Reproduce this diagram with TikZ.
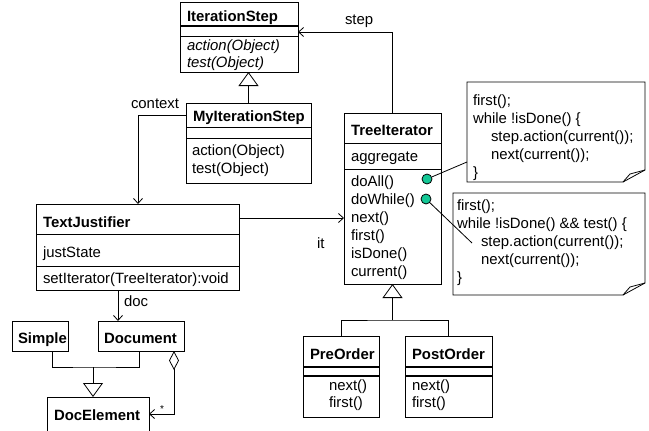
\documentclass[tikz,border=0pt]{standalone}
\usepackage{fontspec}
\setmainfont{Liberation Sans}
\usetikzlibrary{arrows.meta,calc}
\definecolor{pingreen}{RGB}{20,200,150}
\newcommand\fs{\fontsize{14.9}{18}\selectfont}
\tikzset{
  cls/.style={draw, line width=0.8pt, inner sep=0pt, outer sep=0pt, anchor=north west},
  lbl/.style={anchor=base west, inner sep=0pt, outer sep=0pt, font=\fs},
  ttl/.style={lbl, font=\fs\bfseries},
  abst/.style={lbl, font=\fs\itshape},
  conn/.style={line width=0.8pt},
  sepline/.style={line width=0.8pt},
  sepbold/.style={line width=1.5pt},
  nav/.style={conn, -{Straight Barb[length=5pt,width=9pt]}},
  gen/.style={conn, -{Triangle[open,length=14pt,width=20pt]}},
  agg/.style={conn, {Diamond[open,length=19pt,width=10pt]}-{Straight Barb[length=5pt,width=9pt]}},
  pin/.style={circle, draw, line width=0.8pt, fill=pingreen, minimum size=10pt, inner sep=0pt},
  noteframe/.style={inner sep=0pt, outer sep=0pt, anchor=north west},
}
\begin{document}
\begin{tikzpicture}[x=1pt,y=-1pt]
\fill[white] (0,0) rectangle (649,431);
\useasboundingbox (0,0) rectangle (649,431);

% IterationStep
\node[cls, minimum width=118pt, minimum height=70pt] (itstep) at (180,2) {};
\draw[sepbold] (itstep.west |- 0,26) -- (itstep.east |- 0,26);
\draw[sepline] (itstep.west |- 0,36) -- (itstep.east |- 0,36);
\node[ttl] (itstepT) at (187,21) {IterationStep};
\node[abst] (itstepA) at (187,50) {action(Object)};
\node[abst] (itstepB) at (187,67) {test(Object)};

% MyIterationStep
\node[cls, minimum width=125pt, minimum height=80pt] (mystep) at (186,103) {};
\draw[sepline] (mystep.west |- 0,127) -- (mystep.east |- 0,127);
\draw[sepline] (mystep.west |- 0,138) -- (mystep.east |- 0,138);
\node[ttl] (mystepT) at (193,121) {MyIterationStep};
\node[lbl] (mystepA) at (192,155) {action(Object)};
\node[lbl] (mystepB) at (192,173) {test(Object)};

% TreeIterator
\node[cls, minimum width=97pt, minimum height=171pt] (tree) at (344,113) {};
\draw[sepline] (tree.west |- 0,143) -- (tree.east |- 0,143);
\draw[sepline] (tree.west |- 0,169) -- (tree.east |- 0,169);
\node[ttl] (treeT) at (351,135) {TreeIterator};
\node[lbl] (treeAttr) at (351,161) {aggregate};
\node[lbl] (treeM1) at (351,186) {doAll()};
\node[lbl] (treeM2) at (351,204) {doWhile()};
\node[lbl] (treeM3) at (351,222) {next()};
\node[lbl] (treeM4) at (351,240) {first()};
\node[lbl] (treeM5) at (351,258) {isDone()};
\node[lbl] (treeM6) at (351,276) {current()};
\node[pin] (pinA) at (427,179) {};
\node[pin] (pinB) at (426,199) {};

% TextJustifier
\node[cls, minimum width=203pt, minimum height=86pt] (tj) at (36,204) {};
\draw[sepline] (tj.west |- 0,234) -- (tj.east |- 0,234);
\draw[sepline] (tj.west |- 0,266) -- (tj.east |- 0,266);
\node[ttl] (tjT) at (43,227) {TextJustifier};
\node[lbl] (tjAttr) at (43,257) {justState};
\node[lbl] (tjM) at (43,283) {setIterator(TreeIterator):void};

% PreOrder / PostOrder
\node[cls, minimum width=76pt, minimum height=81pt] (pre) at (303,336) {};
\draw[sepbold] (pre.west |- 0,367) -- (pre.east |- 0,367);
\draw[sepbold] (pre.west |- 0,376) -- (pre.east |- 0,376);
\node[ttl] (preT) at (310,359) {PreOrder};
\node[lbl] (preM1) at (329,390) {next()};
\node[lbl] (preM2) at (329,407) {first()};

\node[cls, minimum width=87pt, minimum height=81pt] (post) at (405,336) {};
\draw[sepbold] (post.west |- 0,367) -- (post.east |- 0,367);
\draw[sepbold] (post.west |- 0,376) -- (post.east |- 0,376);
\node[ttl] (postT) at (412,359) {PostOrder};
\node[lbl] (postM1) at (412,390) {next()};
\node[lbl] (postM2) at (412,407) {first()};

% Simple, Document, DocElement
\node[cls, minimum width=56pt, minimum height=30pt] (simple) at (12,321) {};
\node[ttl] (simpleT) at (18,343) {Simple};
\node[cls, minimum width=86pt, minimum height=30pt] (doc) at (98,321) {};
\node[ttl] (docT) at (104,343) {Document};
\node[cls, minimum width=102pt, minimum height=38pt] (de) at (47,397) {};
\node[ttl] (deT) at (54,420) {DocElement};

% Notes
\node[noteframe, minimum width=178pt, minimum height=100pt] (note1) at (467,82) {};
\draw[conn] (467,82) -- (645,82) -- (645,170) -- (623,182) -- (467,182) -- cycle;
\draw[conn] (645,170) -- (630,174) -- (623,182);
\node[lbl] (n1a) at (473,105) {first();};
\node[lbl] (n1b) at (473,123) {while !isDone() \{};
\node[lbl] (n1c) at (491,141) {step.action(current());};
\node[lbl] (n1d) at (491,159) {next(current());};
\node[lbl] (n1e) at (473,177) {\}};

\node[noteframe, minimum width=192pt, minimum height=102pt] (note2) at (453,193) {};
\draw[conn] (453,193) -- (645,193) -- (645,283) -- (623,295) -- (453,295) -- cycle;
\draw[conn] (645,283) -- (630,287) -- (623,295);
\node[lbl] (n2a) at (457,210) {first();};
\node[lbl] (n2b) at (457,228) {while !isDone() \&\& test() \{};
\node[lbl] (n2c) at (481,246) {step.action(current());};
\node[lbl] (n2d) at (481,264) {next(current());};
\node[lbl] (n2e) at (457,282) {\}};

\coordinate (pinBend) at (472,243);
\draw[conn] (pinA) -- (note1.west |- 0,162);
\draw[conn] (pinB) -- (pinBend);

% Connectors
\draw[gen] (mystep.north) -- (itstep.south -| mystep.north);
\draw[nav] (tree.north) |- (itstep.east |- 0,32);
\node[lbl] (lstep) at (345,24) {step};

\draw[nav] (mystep.west |- 0,115) -| (tj.north -| 138,0);
\node[lbl] (lcontext) at (131,108) {context};

\draw[nav] (tj.east |- 0,218) -- (tree.west |- 0,218);
\node[lbl] (lit) at (317,248) {it};

\coordinate (treeJoin) at (tree.south |- 0,320);
\draw[conn] (pre.north) |- (treeJoin) -| (post.north);
\draw[gen] (treeJoin) -- (tree.south);

\draw[nav] (tj.south -| 118,0) -- (doc.north -| 118,0);
\node[lbl] (ldoc) at (124,306) {doc};

\coordinate (docJoin) at (93,367);
\draw[conn] (simple.south -| 52,0) |- (docJoin) -| (doc.south -| 139,0);
\draw[gen] (docJoin) -- (de.north -| docJoin);

\draw[agg] (doc.south -| 174,0) |- (de.east |- 0,414);
\node[anchor=base west, inner sep=0pt, font=\fontsize{10}{12}\selectfont] (lmany) at (160,412) {*};
\end{tikzpicture}
\end{document}
